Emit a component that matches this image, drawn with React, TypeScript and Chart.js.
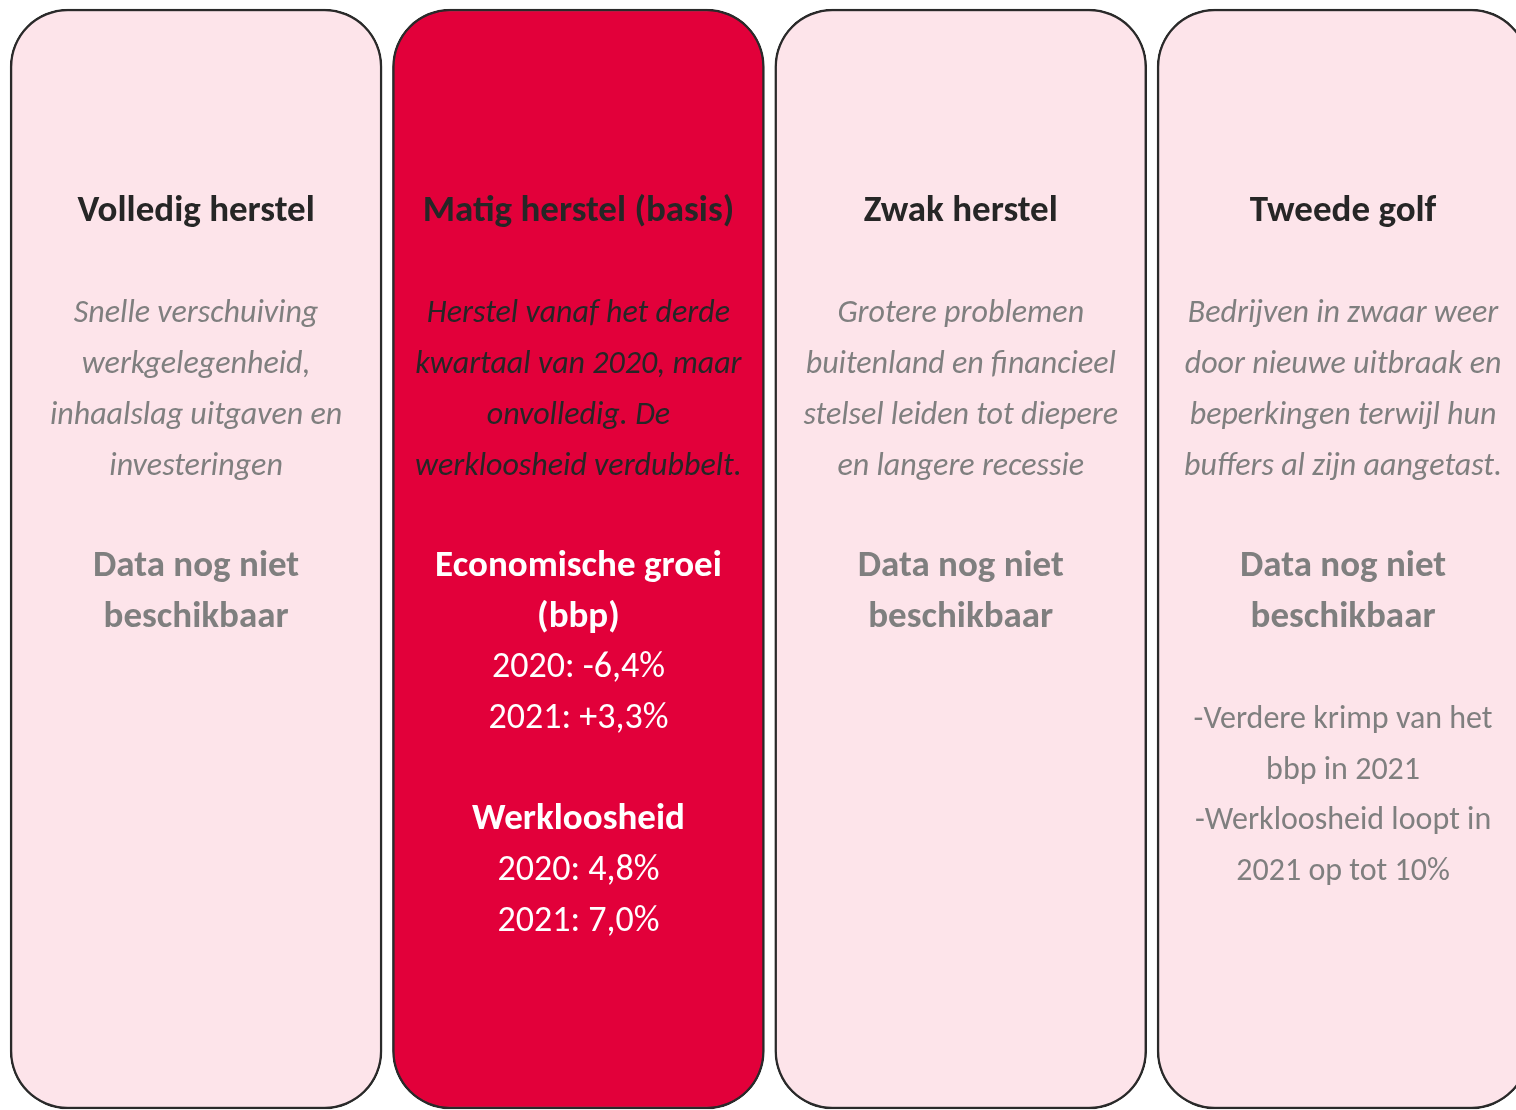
import React, { useEffect, useRef } from "react";
import { Chart, registerables } from "chart.js";

Chart.register(...registerables);

// ---- Data ----
const scenarios = ["Volledig herstel", "Matig herstel (basis)", "Zwak herstel", "Tweede golf"];
const panelIndex = [0, 1, 2, 3];
const panelSpan = [[0, 1], [0, 1], [0, 1], [0, 1]];
const highlighted = [false, true, false, false];
const descriptions = [
  ["Snelle verschuiving", "werkgelegenheid,", "inhaalslag uitgaven en", "investeringen"],
  ["Herstel vanaf het derde", "kwartaal van 2020, maar", "onvolledig. De", "werkloosheid verdubbelt."],
  ["Grotere problemen", "buitenland en financieel", "stelsel leiden tot diepere", "en langere recessie"],
  ["Bedrijven in zwaar weer", "door nieuwe uitbraak en", "beperkingen terwijl hun", "buffers al zijn aangetast."],
];
const growthLabel = ["Economische groei", "(bbp)"];
const growthValues = ["2020: -6,4%", "2021: +3,3%"];
const unemploymentLabel = ["Werkloosheid"];
const unemploymentValues = ["2020: 4,8%", "2021: 7,0%"];
const unavailableText = ["Data nog niet", "beschikbaar"];
const secondWaveNotes = ["-Verdere krimp van het", "bbp in 2021", "-Werkloosheid loopt in", "2021 op tot 10%"];

// ---- Styles ----
const PINK = "rgb(253,228,234)";
const RED = "rgb(226,0,58)";
const BORDER = "#2a2a2a";
const DARK = "#262626";
const GRAY = "#7f7f7f";
const FAMILY = "Carlito, Lato, 'Open Sans', sans-serif";

type Line = { text: string; row: number; font: string; color: string };

function panelLines(i: number): Line[] {
  const hl = highlighted[i];
  const lines: Line[] = [];
  lines.push({ text: scenarios[i], row: 0, font: `bold 37px ${FAMILY}`, color: DARK });
  descriptions[i].forEach((t, k) =>
    lines.push({ text: t, row: 2 + k, font: `italic 32px ${FAMILY}`, color: hl ? DARK : GRAY })
  );
  if (hl) {
    const body = [
      ...growthLabel.map((t) => ({ t, bold: true })),
      ...growthValues.map((t) => ({ t, bold: false })),
      { t: "", bold: false },
      ...unemploymentLabel.map((t) => ({ t, bold: true })),
      ...unemploymentValues.map((t) => ({ t, bold: false })),
    ];
    body.forEach((b, k) => {
      if (b.t)
        lines.push({
          text: b.t,
          row: 7 + k,
          font: b.bold ? `bold 37px ${FAMILY}` : `36px ${FAMILY}`,
          color: "#ffffff",
        });
    });
  } else {
    unavailableText.forEach((t, k) =>
      lines.push({ text: t, row: 7 + k, font: `bold 37px ${FAMILY}`, color: GRAY })
    );
    if (i === 3) {
      secondWaveNotes.forEach((t, k) =>
        lines.push({ text: t, row: 10 + k, font: `32px ${FAMILY}`, color: GRAY })
      );
    }
  }
  return lines;
}

const textPlugin = {
  id: "panelText",
  afterDatasetsDraw(chart: any) {
    const ctx = chart.ctx as CanvasRenderingContext2D;
    const meta = chart.getDatasetMeta(0);
    const firstBaseline = 221;
    const rowStep = 50.7;
    meta.data.forEach((el: any, i: number) => {
      const cx = el.x;
      ctx.save();
      ctx.textAlign = "center";
      ctx.textBaseline = "alphabetic";
      panelLines(i).forEach((ln) => {
        ctx.font = ln.font;
        ctx.fillStyle = ln.color;
        ctx.fillText(ln.text, cx, firstBaseline + ln.row * rowStep);
      });
      ctx.restore();
    });
  },
};

export default function App() {
  const ref = useRef<HTMLCanvasElement | null>(null);
  useEffect(() => {
    document.body.style.margin = "0";
    document.body.style.overflow = "hidden";
    const canvas = ref.current;
    if (!canvas) return;
    const chart = new Chart(canvas, {
      type: "bar",
      data: {
        datasets: [
          {
            data: panelIndex.map((x, i) => ({ x, y: panelSpan[i] })) as any,
            backgroundColor: highlighted.map((h) => (h ? RED : PINK)),
            borderColor: BORDER,
            borderWidth: 2.5,
            borderRadius: 58,
            borderSkipped: false,
            barThickness: 372,
          },
        ],
      },
      options: {
        responsive: false,
        animation: false,
        devicePixelRatio: 1,
        layout: { padding: 0 },
        scales: {
          x: { type: "linear", min: -0.5129, max: 3.4523, offset: false, display: false },
          y: { min: -0.000909, max: 1.00818, display: false },
        },
        plugins: { legend: { display: false }, tooltip: { enabled: false } },
      },
      plugins: [textPlugin],
    });
    return () => chart.destroy();
  }, []);
  return <canvas ref={ref} width={1516} height={1110} style={{ display: "block" }} />;
}
